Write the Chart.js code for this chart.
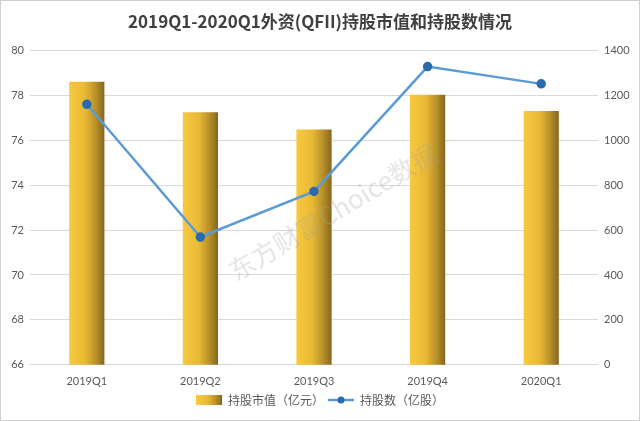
<!DOCTYPE html>
<html><head><meta charset="utf-8">
<script src="https://cdn.jsdelivr.net/npm/chart.js@4/dist/chart.umd.min.js"></script>
<style>html,body{margin:0;padding:0;background:#fff;}canvas{display:block;}</style>
</head><body>
<canvas id="c" width="640" height="421"></canvas>
<script>
const categories = ['2019Q1','2019Q2','2019Q3','2019Q4','2020Q1'];
const marketValue = [78.6, 77.25, 76.48, 78.02, 77.3];   // 持股市值（亿元）
const shareCount = [1160, 569, 772, 1328, 1251];          // 持股数（亿股）
const leftTicks = [66, 68, 70, 72, 74, 76, 78, 80];
const rightTicks = [0, 200, 400, 600, 800, 1000, 1200, 1400];

const FONT = 'Lato, "Noto Sans CJK SC", sans-serif';
const CJK = '"Noto Sans CJK SC", Lato, sans-serif';

function barGradient(ctx, x0, x1) {
  const g = ctx.createLinearGradient(x0, 0, x1, 0);
  g.addColorStop(0, '#F7C93E');
  g.addColorStop(0.45, '#E9B935');
  g.addColorStop(0.75, '#B8912A');
  g.addColorStop(1, '#86661E');
  return g;
}

// legend icons
const barIcon = document.createElement('canvas');
barIcon.width = 26; barIcon.height = 10;
(function(){ const c = barIcon.getContext('2d'); c.fillStyle = barGradient(c, 0, 26); c.fillRect(0,0,26,10); })();
const lineIcon = document.createElement('canvas');
lineIcon.width = 26; lineIcon.height = 10;
(function(){ const c = lineIcon.getContext('2d'); c.strokeStyle='#5B9BD5'; c.lineWidth=2.5; c.beginPath(); c.moveTo(0,5); c.lineTo(26,5); c.stroke();
  c.fillStyle='#2A6BB0'; c.beginPath(); c.arc(13,5,3.5,0,Math.PI*2); c.fill(); })();

const BAR_PCT = 0.31;

const decor = {
  id: 'decor',
  afterDraw(chart) {
    const c = chart.ctx;
    c.save();
    c.translate(333, 212);
    c.rotate(-31 * Math.PI / 180);
    c.font = '26px ' + CJK;
    c.fillStyle = 'rgba(160,160,160,0.28)';
    c.textAlign = 'center'; c.textBaseline = 'middle';
    c.fillText('东方财富Choice数据', 0, 0);
    c.restore();
    c.save();
    c.strokeStyle = '#d0d0d0'; c.lineWidth = 1;
    c.strokeRect(0.5, 0.5, chart.width - 1, chart.height - 1);
    c.restore();
  }
};

new Chart(document.getElementById('c'), {
  data: {
    labels: categories,
    datasets: [
      {
        type: 'line', label: '持股数（亿股）', data: shareCount, yAxisID: 'y1',
        borderColor: '#5B9BD5', borderWidth: 2.5, pointBackgroundColor: '#2A6BB0',
        pointBorderColor: '#2A6BB0', pointRadius: 3.5, pointHoverRadius: 3.5, tension: 0, order: 0
      },
      {
        type: 'bar', label: '持股市值（亿元）', data: marketValue, yAxisID: 'y',
        categoryPercentage: 1, barPercentage: BAR_PCT, order: 1,
        backgroundColor: (ctx) => {
          const chart = ctx.chart, xs = chart.scales.x;
          if (!xs || !chart.chartArea || ctx.dataIndex === undefined) return '#E9B935';
          const cx = xs.getPixelForValue(ctx.dataIndex);
          const w = xs.width / categories.length * BAR_PCT;
          return barGradient(chart.ctx, cx - w / 2, cx + w / 2);
        }
      }
    ]
  },
  options: {
    responsive: false, animation: false,
    layout: { padding: { left: 4, right: 4, bottom: 5, top: 0 } },
    plugins: {
      title: { display: true, text: '2019Q1-2020Q1外资(QFII)持股市值和持股数情况',
        color: '#404040', font: { family: CJK, size: 17, weight: 'bold' }, padding: { top: 11, bottom: 19 } },
      legend: {
        position: 'bottom', reverse: true,
        labels: {
          usePointStyle: true, pointStyleWidth: 26, boxHeight: 10,
          color: '#595959', font: { family: CJK, size: 12 }, padding: 4,
          generateLabels: (chart) => chart.data.datasets.map((d, i) => ({
            text: d.label, pointStyle: d.type === 'bar' ? barIcon : lineIcon,
            datasetIndex: i, hidden: false, fontColor: '#595959', lineWidth: 0
          }))
        }
      },
      tooltip: { enabled: false }
    },
    scales: {
      x: {
        grid: { display: false }, border: { display: false },
        ticks: { color: '#595959', font: { family: FONT, size: 11 }, padding: 2 }
      },
      y: {
        position: 'left', min: 66, max: 80,
        afterBuildTicks: (s) => { s.ticks = leftTicks.map(v => ({ value: v })); },
        afterFit: (s) => { s.width = 26; },
        grid: { color: '#d9d9d9', drawTicks: false }, border: { display: false },
        ticks: { color: '#595959', font: { family: FONT, size: 11 }, padding: 6, callback: (v) => String(v) }
      },
      y1: {
        position: 'right', min: 0, max: 1400,
        afterBuildTicks: (s) => { s.ticks = rightTicks.map(v => ({ value: v })); },
        afterFit: (s) => { s.width = 38; },
        grid: { display: false, drawTicks: false }, border: { display: false },
        ticks: { color: '#595959', font: { family: FONT, size: 11 }, padding: 6, callback: (v) => String(v) }
      }
    }
  },
  plugins: [decor]
});
</script>
</body></html>
